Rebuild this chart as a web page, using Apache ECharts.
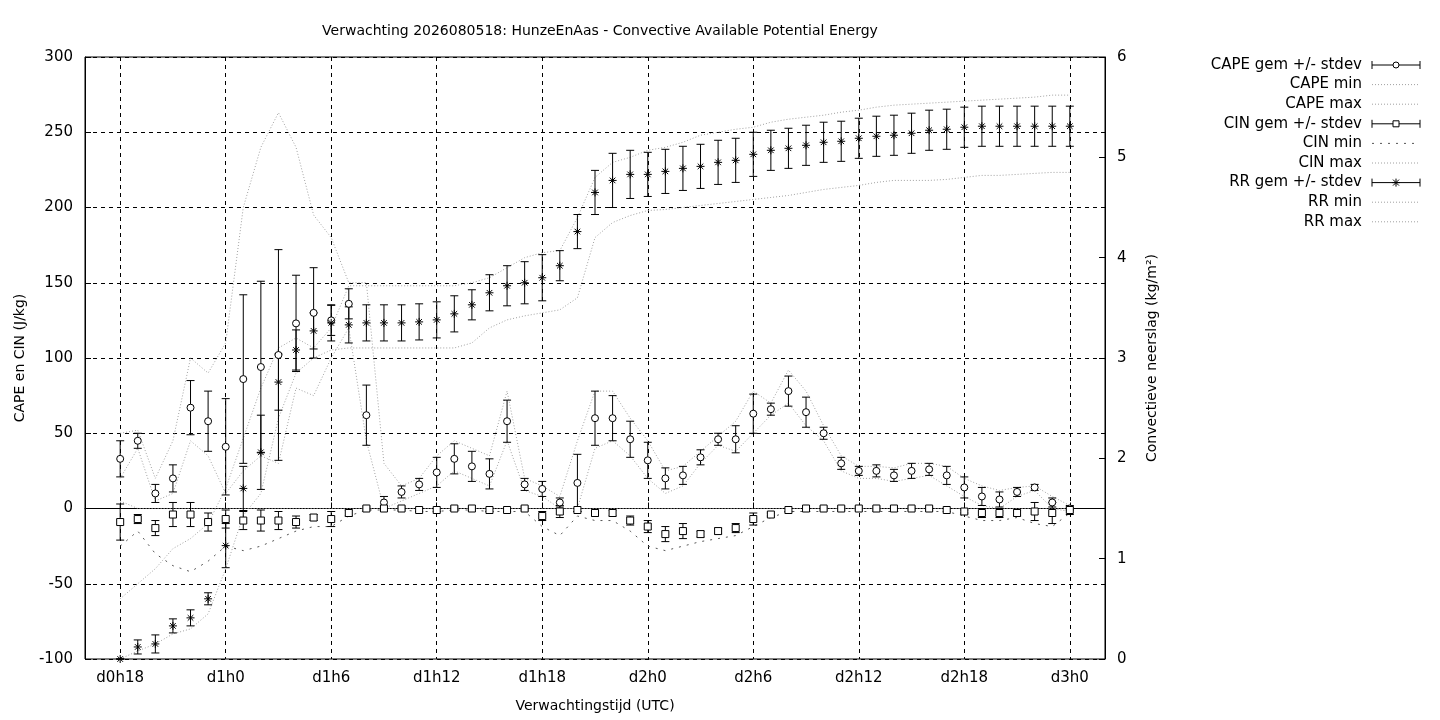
<!DOCTYPE html>
<html><head><meta charset="utf-8">
<script src="https://cdn.jsdelivr.net/npm/echarts@6/dist/echarts.min.js"></script>
<style>html,body{margin:0;background:#fff}#c{width:1440px;height:720px}</style>
</head><body><div id="c"></div>
<script>
const hours=[];for(let h=16;h<=74;h++)hours.push(h);
const dataHours=[];for(let h=18;h<=72;h++)dataHours.push(h);
const capeMean=[33,45,10,20,67,58,41,86,94,102,123,130,125,136,62,4,11,16,24,33,28,23,58,16,13,4,17,60,60,46,32,20,22,34,46,46,63,66,78,64,50,30,25,25,22,25,26,22,14,8,6,11,14,4,0];
const capeSd=[12,5,6,9,18,20,32,56,57,70,32,30,10,10,20,4,4,4,10,10,10,10,14,4,5,3,19,18,15,12,12,7,6,5,4,9,13,4,10,10,4,4,3,4,4,5,4,6,7,6,5,3,2,3,1];
const capeMin=[20,40,5,10,45,35,10,25,35,30,80,75,100,120,45,0,5,10,15,25,20,15,45,12,8,0,0,40,45,35,20,10,15,30,42,38,50,62,70,55,45,25,20,20,18,20,22,15,8,2,0,8,12,0,-2];
const capeMax=[50,52,20,45,100,90,110,200,240,263,240,195,180,150,150,30,15,20,35,45,40,35,78,20,15,8,45,78,78,60,45,25,28,38,48,58,78,70,92,78,55,35,28,28,27,30,30,28,20,15,12,14,15,8,2];
const cinMean=[-9,-7,-13,-4,-4,-9,-7,-8,-8,-8,-9,-6,-7,-3,0,0,0,-1,-1,0,0,-1,-1,0,-5,-2,-1,-3,-3,-8,-12,-17,-15,-17,-15,-13,-7,-4,-1,0,0,0,0,0,0,0,0,-1,-2,-3,-3,-3,-2,-3,-1];
const cinSd=[12,3,5,8,8,6,6,6,7,6,4,2,5,2,1,1,1,1,1,1,1,1,1,1,3,4,1,2,2,3,4,5,5,2,2,3,4,1,1,1,1,1,1,1,1,1,1,1,1,3,3,2,6,7,3];
const cinMin=[-25,-15,-30,-38,-42,-35,-25,-28,-25,-20,-15,-12,-12,-5,-1,-1,-1,-2,-2,-1,-1,-2,-2,-2,-12,-18,-5,-8,-8,-15,-25,-28,-25,-22,-20,-18,-12,-6,-2,-2,-2,-2,-2,-2,-2,-2,-2,-2,-5,-8,-8,-6,-10,-12,-3];
const cinMax=[5,0,0,0,0,0,0,0,0,0,0,0,0,0,0,0,0,0,0,0,0,0,0,0,0,0,0,0,0,0,0,0,0,0,0,0,0,0,0,0,0,0,0,0,0,0,0,0,0,0,0,0,0,0,0];
const rrMean=[0,0.12,0.15,0.33,0.41,0.6,1.13,1.7,2.06,2.76,3.08,3.27,3.35,3.33,3.35,3.35,3.35,3.36,3.38,3.44,3.53,3.65,3.72,3.75,3.8,3.92,4.26,4.65,4.77,4.83,4.83,4.86,4.89,4.91,4.95,4.97,5.03,5.07,5.09,5.12,5.15,5.16,5.19,5.21,5.22,5.24,5.27,5.28,5.3,5.31,5.31,5.31,5.31,5.31,5.31];
const rrSd=[0,0.07,0.09,0.07,0.08,0.06,0.22,0.22,0.37,0.28,0.2,0.18,0.18,0.18,0.18,0.18,0.18,0.18,0.18,0.18,0.15,0.18,0.2,0.21,0.23,0.15,0.17,0.22,0.27,0.24,0.22,0.22,0.22,0.22,0.22,0.22,0.22,0.2,0.2,0.2,0.2,0.2,0.2,0.2,0.2,0.2,0.2,0.2,0.2,0.2,0.2,0.2,0.2,0.2,0.2];
const rrMin=[0,0.08,0.15,0.25,0.3,0.45,0.9,1.43,1.65,2.4,2.85,3.0,3.08,3.1,3.1,3.1,3.1,3.1,3.1,3.1,3.15,3.3,3.38,3.42,3.45,3.48,3.6,4.2,4.35,4.42,4.47,4.48,4.5,4.52,4.54,4.56,4.58,4.6,4.62,4.65,4.68,4.7,4.72,4.75,4.77,4.77,4.77,4.78,4.8,4.82,4.82,4.83,4.84,4.85,4.85];
const rrMax=[0.6,0.75,0.9,1.1,1.2,1.35,1.7,2.2,2.7,3.1,3.2,3.1,3.3,3.72,3.72,3.72,3.72,3.72,3.72,3.72,3.75,3.8,3.9,4.0,4.05,4.07,4.4,4.8,4.95,5.0,5.07,5.1,5.15,5.22,5.25,5.28,5.3,5.35,5.38,5.4,5.42,5.45,5.47,5.5,5.52,5.53,5.54,5.55,5.56,5.57,5.58,5.59,5.6,5.62,5.62];

const cats=hours.map(h=>'d'+Math.floor(h/24)+'h'+(h%24));
const show=(i)=>(hours[i]-18)%6===0 && hours[i]>=18 && hours[i]<=72;
const xi=dataHours.map(h=>h-16);
const pts=a=>a.map((v,i)=>[xi[i],v]);
const bars=(m,s)=>m.map((v,i)=>[xi[i],v-s[i],v+s[i]]);
function errSeries(data,yAxisIndex){
  return {type:'custom',yAxisIndex,data,silent:true,z:3,
    renderItem:(p,api)=>{
      const lo=api.coord([api.value(0),api.value(1)]),hi=api.coord([api.value(0),api.value(2)]);
      const w=4,st={stroke:'#000',lineWidth:1};
      return {type:'group',children:[
        {type:'line',shape:{x1:lo[0],y1:lo[1],x2:hi[0],y2:hi[1]},style:st},
        {type:'line',shape:{x1:lo[0]-w,y1:lo[1],x2:lo[0]+w,y2:lo[1]},style:st},
        {type:'line',shape:{x1:hi[0]-w,y1:hi[1],x2:hi[0]+w,y2:hi[1]},style:st}]};
    }};
}
const dotted=(data,yAxisIndex,type,color)=>({type:'line',yAxisIndex,data,symbol:'none',silent:true,z:2,
  lineStyle:{color:color||'#a0a0a0',width:1,type:type||[1,2]}});
const star='path://M0,5L10,5M5,0L5,10M1.5,1.5L8.5,8.5M8.5,1.5L1.5,8.5';
const mk=(data,yAxisIndex,symbol,size)=>({type:'scatter',yAxisIndex,data,symbol,symbolSize:size,silent:true,z:5,
  itemStyle:{color:symbol===star?'transparent':'#fff',borderColor:'#000',borderWidth:1,opacity:1}});

const legendItems=[['CAPE gem +/- stdev','err','circle'],['CAPE min','dot'],['CAPE max','dot'],['CIN gem +/- stdev','err','rect'],['CIN min','cin'],['CIN max','dot'],['RR gem +/- stdev','err','star'],['RR min','dot'],['RR max','dot']];
const g=[];
const L=(x1,y1,x2,y2,extra)=>({type:'line',shape:{x1,y1,x2,y2},style:Object.assign({stroke:'#000',lineWidth:1},extra||{})});
legendItems.forEach((it,k)=>{
  const y=65+k*19.6;
  g.push({type:'text',x:1362,y:y,style:{text:it[0],font:'15px "DejaVu Sans"',fill:'#000',textAlign:'right',textVerticalAlign:'middle'}});
  if(it[1]==='err'){
    g.push(L(1372,y,1420,y),L(1372,y-4,1372,y+4),L(1420,y-4,1420,y+4));
    if(it[2]==='circle')g.push({type:'circle',shape:{cx:1396,cy:y,r:3},style:{fill:'#fff',stroke:'#000'}});
    else if(it[2]==='rect')g.push({type:'rect',shape:{x:1393,y:y-3,width:6,height:6},style:{fill:'#fff',stroke:'#000'}});
    else g.push(L(1392,y,1400,y),L(1396,y-4,1396,y+4),L(1393,y-3,1399,y+3),L(1399,y-3,1393,y+3));
  }else{
    g.push(L(1372,y,1420,y,{stroke:it[1]==='cin'?'#555':'#a0a0a0',lineDash:it[1]==='cin'?[2,6]:[1,2]}));
  }
});

const chart=echarts.init(document.getElementById('c'));
const axLbl={color:'#000',fontFamily:'DejaVu Sans',fontSize:15};
chart.setOption({
  animation:false,
  title:{text:'Verwachting 2026080518: HunzeEnAas - Convective Available Potential Energy',left:595,top:19,textAlign:'center',
    textStyle:{fontFamily:'DejaVu Sans',fontSize:14,fontWeight:'normal',color:'#000'}},
  grid:{left:85,right:335,top:57,bottom:61,show:true,borderColor:'#000',borderWidth:1},
  xAxis:{type:'category',data:cats,boundaryGap:false,name:'Verwachtingstijd (UTC)',nameLocation:'middle',nameGap:40,
    nameTextStyle:{color:'#000',fontFamily:'DejaVu Sans',fontSize:14},
    axisLine:{lineStyle:{color:'#000'}},axisTick:{interval:(i)=>show(i),inside:true,length:6,lineStyle:{color:'#000'}},
    axisLabel:Object.assign({interval:(i)=>show(i),margin:12},axLbl),
    splitLine:{show:true,interval:(i)=>show(i),lineStyle:{color:'#000',type:[4,4]}}},
  yAxis:[{type:'value',min:-100,max:300,interval:50,name:'CAPE en CIN (J/kg)',nameLocation:'middle',nameGap:58,
    nameTextStyle:{color:'#000',fontFamily:'DejaVu Sans',fontSize:14},
    axisLine:{show:true,lineStyle:{color:'#000'}},axisTick:{show:true,inside:true,length:6,lineStyle:{color:'#000'}},
    axisLabel:Object.assign({margin:12},axLbl),splitLine:{lineStyle:{color:'#000',type:[4,4]}}},
   {type:'value',min:0,max:6,interval:1,name:'Convectieve neerslag (kg/m²)',nameLocation:'middle',nameGap:40,
    nameTextStyle:{color:'#000',fontFamily:'DejaVu Sans',fontSize:14},
    axisLine:{show:true,lineStyle:{color:'#000'}},axisTick:{show:true,inside:true,length:6,lineStyle:{color:'#000'}},
    axisLabel:Object.assign({margin:12},axLbl),splitLine:{show:false}}],
  graphic:g,
  series:[
    dotted(pts(capeMin),0),dotted(pts(capeMax),0),
    dotted(pts(cinMin),0,[2,6],'#555'),dotted(pts(cinMax),0),
    dotted(pts(rrMin),1),dotted(pts(rrMax),1),
    errSeries(bars(capeMean,capeSd),0),errSeries(bars(cinMean,cinSd),0),errSeries(bars(rrMean,rrSd),1),
    mk(pts(capeMean),0,'circle',7),mk(pts(cinMean),0,'rect',7),mk(pts(rrMean),1,star,8)
  ]
});
</script></body></html>
